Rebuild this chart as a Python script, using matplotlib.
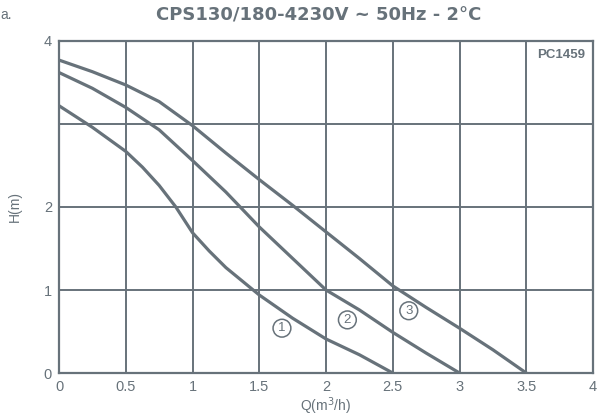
import numpy as np
import matplotlib
matplotlib.use("Agg")
import matplotlib.pyplot as plt

plt.rcParams["font.family"] = ["Liberation Sans", "DejaVu Sans"]

# flow Q (m3/h) and head H (m)
q1 = [0, 0.25, 0.5, 0.625, 0.75, 0.875, 1.0, 1.125, 1.25, 1.5, 1.75, 2.0, 2.25, 2.5]
h1 = [3.22, 2.96, 2.67, 2.48, 2.26, 2.0, 1.69, 1.47, 1.27, 0.94, 0.66, 0.41, 0.22, 0.0]

q2 = [0, 0.25, 0.5, 0.75, 1.0, 1.25, 1.5, 1.75, 2.0, 2.25, 2.5, 2.75, 3.0]
h2 = [3.62, 3.43, 3.20, 2.93, 2.56, 2.18, 1.76, 1.38, 1.0, 0.76, 0.49, 0.24, 0.0]

q3 = [0, 0.25, 0.5, 0.75, 1.0, 1.25, 1.5, 1.75, 2.0, 2.25, 2.5, 2.75, 3.0, 3.25, 3.5]
h3 = [3.77, 3.63, 3.47, 3.27, 2.98, 2.65, 2.33, 2.02, 1.70, 1.38, 1.05, 0.79, 0.54, 0.28, 0.0]

curve_labels = ["1", "2", "3"]
label_pos = [(1.67, 0.54), (2.16, 0.64), (2.62, 0.75)]

xticks = [0, 0.5, 1, 1.5, 2, 2.5, 3, 3.5, 4]
xtick_labels = ["0", "0.5", "1", "1.5", "2", "2.5", "3", "3.5", "4"]
yticks = [0, 1, 2, 3, 4]
ytick_labels = ["0", "1", "2", "", "4"]

gray = "#67727a"

fig = plt.figure(figsize=(6.01, 4.17), dpi=100)
ax = fig.add_axes([0.0982, 0.1055, 0.8885, 0.7962])

for q, h in [(q1, h1), (q2, h2), (q3, h3)]:
    ax.plot(q, h, color=gray, linewidth=2.3, solid_joinstyle="round", zorder=3)

for lab, (x, y) in zip(curve_labels, label_pos):
    ax.text(x, y, lab, ha="center", va="center", fontsize=9.5, color=gray,
            bbox=dict(boxstyle="circle,pad=0.22", fc="white", ec=gray, lw=1.1), zorder=4)

ax.set_xlim(0, 4)
ax.set_ylim(0, 4)
ax.set_xticks(xticks)
ax.set_xticklabels(xtick_labels)
ax.set_yticks(yticks)
ax.set_yticklabels(ytick_labels)
ax.tick_params(length=0, labelsize=10.5, labelcolor=gray, pad=5)
ax.grid(True, color=gray, linewidth=1.4)
for s in ax.spines.values():
    s.set_color(gray)
    s.set_linewidth(1.6)

ax.set_xlabel("Q(m$^3$/h)", fontsize=10, color=gray, labelpad=1)
ax.set_ylabel("H(m)", fontsize=10, color=gray, labelpad=16)

ax.text(0.985, 0.975, "PC1459", transform=ax.transAxes, ha="right", va="top",
        fontsize=9.5, fontweight="bold", color=gray)

fig.text(0.53, 0.962, "CPS130/180-4230V ~ 50Hz - 2°C", ha="center", va="center",
         fontsize=13, fontweight="bold", color=gray, family="DejaVu Sans")
fig.text(0.0, 0.965, "a.", ha="left", va="center", fontsize=10, color=gray)

fig.savefig("out.png", dpi=100)
